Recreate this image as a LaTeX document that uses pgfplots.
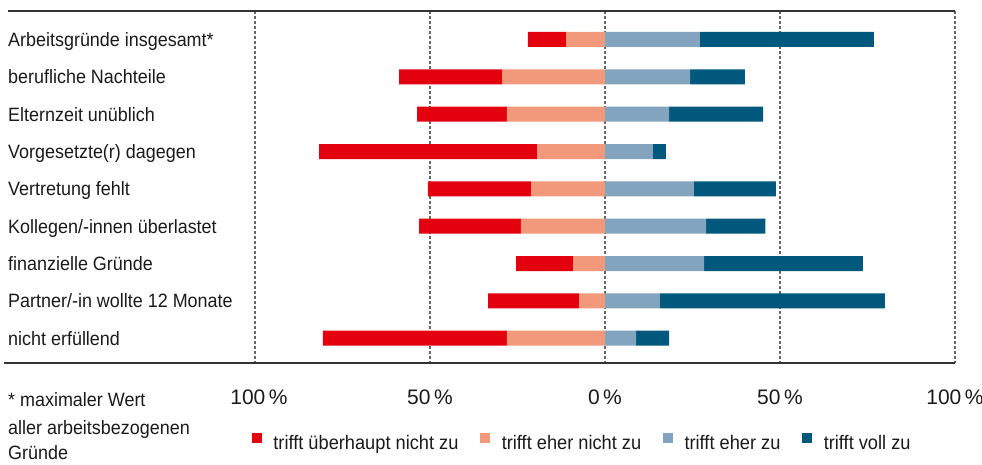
\documentclass[border=0pt]{standalone}
\usepackage{pgfplots}
\pgfplotsset{compat=1.18}
\usepackage{pgfplotstable}
\usepackage{fontspec}
\setmainfont{Liberation Sans}[FakeStretch=0.93]
\newfontfamily\tickfont{Liberation Sans}
\definecolor{cRed}{HTML}{E3000F}
\definecolor{cSalmon}{HTML}{F2997B}
\definecolor{cLight}{HTML}{82A4BE}
\definecolor{cDark}{HTML}{00587D}
\definecolor{cText}{HTML}{1A1A1A}
\pgfplotstableread{
y red orange lb db
0 -10.9 -11.1 27.1 49.7
1 -29.4 -29.4 24.3 15.7
2 -25.7 -28.0 18.3 26.9
3 -62.3 -19.4 13.7 3.7
4 -29.5 -21.1 25.4 23.4
5 -29.1 -24.0 28.9 16.9
6 -16.3 -9.1 28.3 45.4
7 -26.0 -7.4 15.7 64.3
8 -52.6 -28.0 8.9 9.4
}\data
\begin{document}
\begin{tikzpicture}
\begin{axis}[
  scale only axis,
  width=700pt, height=352pt,
  xmin=-100, xmax=100,
  ymin=-0.763, ymax=8.663,
  y dir=reverse,
  xbar stacked,
  stack negative=separate,
  bar width=15pt,
  clip=false,
  axis line style={draw=none},
  major tick length=0pt,
  xtick={-100,-50,0,50,100},
  xticklabels={\hspace{8pt}100\,\%,50\,\%,0\,\%,50\,\%,100\,\%\hspace{10pt}},
  xticklabel style={font=\tickfont\fontsize{21}{25}\selectfont, anchor=base, yshift=-42pt, inner sep=0pt, text=cText},
  ytick={0,1,2,3,4,5,6,7,8},
  yticklabels={Arbeitsgründe insgesamt*, berufliche Nachteile, Elternzeit unüblich, Vorgesetzte(r) dagegen, Vertretung fehlt, Kollegen/-innen überlastet, finanzielle Gründe, Partner/-in wollte 12 Monate, nicht erfüllend},
  yticklabel style={font=\fontsize{19.3}{23}\selectfont, anchor=base west, xshift=-247pt, yshift=-7pt, inner sep=0pt, text=cText},
  xmajorgrids,
  major grid style={draw=black!60, line width=1.3pt, dash pattern=on 3pt off 2pt},
  legend columns=4,
  legend style={at={(rel axis cs:-0.00486,-0.2244)}, anchor=west, draw=none, fill=none,
    inner sep=0pt,
    font=\fontsize{19.6}{23}\selectfont, text=cText,
    nodes={inner sep=0pt},
    /tikz/every odd column/.append style={column sep=11.6pt},
    /tikz/every even column/.append style={column sep=21.7pt}},
  legend image code/.code={\fill[#1] (0pt,0pt) rectangle (10pt,10pt);},
]
\addlegendimage{fill=cRed, draw=none}
\addlegendentry{trifft überhaupt nicht zu}
\addlegendimage{fill=cSalmon, draw=none}
\addlegendentry{trifft eher nicht zu}
\addlegendimage{fill=cLight, draw=none}
\addlegendentry{trifft eher zu}
\addlegendimage{fill=cDark, draw=none}
\addlegendentry{trifft voll zu}
\addplot[fill=cSalmon, draw=none] table[x=orange, y=y]{\data};
\addplot[fill=cRed, draw=none] table[x=red, y=y]{\data};
\addplot[fill=cLight, draw=none] table[x=lb, y=y]{\data};
\addplot[fill=cDark, draw=none] table[x=db, y=y]{\data};
\draw[line width=1.5pt, color=black!80] (rel axis cs:-0.352857,1) -- (rel axis cs:1,1);
\draw[line width=1.5pt, color=black!80] (rel axis cs:-0.358571,0) -- (rel axis cs:1,0);
\node[anchor=base west, inner sep=0pt, font=\fontsize{19.3}{23}\selectfont, text=cText] at (rel axis cs:-0.352857,-0.125) {* maximaler Wert};
\node[anchor=base west, inner sep=0pt, font=\fontsize{19.3}{23}\selectfont, text=cText] at (rel axis cs:-0.352857,-0.204545) {aller arbeitsbezogenen};
\node[anchor=base west, inner sep=0pt, font=\fontsize{19.3}{23}\selectfont, text=cText] at (rel axis cs:-0.352857,-0.275568) {Gründe};
\coordinate (bbSW) at (rel axis cs:-0.364286,-0.289773);
\coordinate (bbNE) at (rel axis cs:1.038571,1.03125);
\end{axis}
\pgfresetboundingbox
\path (bbSW) rectangle (bbNE);
\end{tikzpicture}
\end{document}
